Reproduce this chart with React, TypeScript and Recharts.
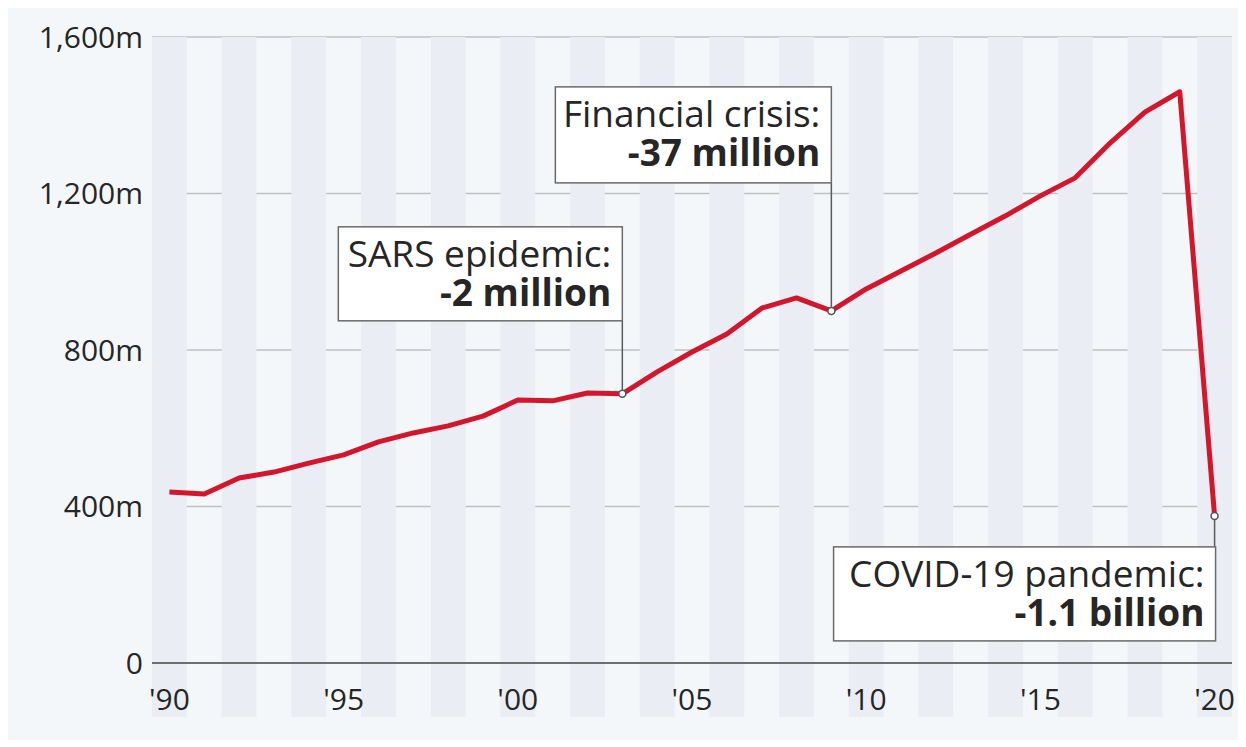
import React from 'react';
import {
  LineChart,
  Line,
  XAxis,
  YAxis,
  CartesianGrid,
  ReferenceArea,
  ReferenceDot,
} from 'recharts';

const years = [
  1990, 1991, 1992, 1993, 1994, 1995, 1996, 1997, 1998, 1999, 2000,
  2001, 2002, 2003, 2004, 2005, 2006, 2007, 2008, 2009, 2010,
  2011, 2012, 2013, 2014, 2015, 2016, 2017, 2018, 2019, 2020,
];

// international tourist arrivals, millions
const arrivals = [
  437, 432, 473, 488, 511, 532, 565, 588, 606, 631, 672,
  670, 690, 688, 744, 795, 841, 907, 933, 900, 956,
  1002, 1048, 1096, 1143, 1194, 1240, 1329, 1408, 1460, 376,
];

const yTicks = [0, 400, 800, 1200, 1600];
const xTicks = [1990, 1995, 2000, 2005, 2010, 2015, 2020];

const events = [
  { year: 2003, title: 'SARS epidemic:', loss: '-2 million' },
  { year: 2009, title: 'Financial crisis:', loss: '-37 million' },
  { year: 2020, title: 'COVID-19 pandemic:', loss: '-1.1 billion' },
];

const data = years.map((year, i) => ({ year, value: arrivals[i] }));
const stripeYears = years.filter((y) => y % 2 === 0);

const FONT = '"Open Sans", "Noto Sans", sans-serif';
const RED = '#d3162b';
const TEXT = '#262626';

// box placement relative to the marked point (pixels)
const boxLayout: Record<number, { left: number; top: number; width: number; height: number }> = {
  2003: { left: -284, top: -167, width: 284, height: 94 },
  2009: { left: -276, top: -224, width: 276, height: 96 },
  2020: { left: -381, top: 31, width: 382, height: 94 },
};

const Stripe = (props: any) => {
  const { x, y, width, height } = props;
  return <rect x={x} y={y} width={width} height={height + 54} fill="#eaeef4" />;
};

const Callout = (props: any) => {
  const { cx, cy, year, title, loss } = props;
  const b = boxLayout[year];
  const bx = cx + b.left;
  const by = cy + b.top;
  const right = bx + b.width - 11;
  const lineFrom = b.top < 0 ? by + b.height : cy + 4;
  const lineTo = b.top < 0 ? cy - 4 : by;
  return (
    <g>
      <line x1={cx} y1={lineFrom} x2={cx} y2={lineTo} stroke="#5a5a5a" strokeWidth={1.5} />
      <rect x={bx} y={by} width={b.width} height={b.height} fill="#ffffff" stroke="#6a6a6a" strokeWidth={1.5} />
      <text x={right} y={by + 40} textAnchor="end" fontSize={37} fill={TEXT} fontFamily={FONT}>
        {title}
      </text>
      <text x={right} y={by + 79} textAnchor="end" fontSize={37} fontWeight="bold" fill={TEXT} fontFamily={FONT}>
        {loss}
      </text>
      <circle cx={cx} cy={cy} r={3.5} fill="#ffffff" stroke="#555" strokeWidth={1.5} />
    </g>
  );
};

const App: React.FC = () => {
  return (
    <div style={{ width: 1232, height: 732, background: '#f4f7fa', fontFamily: FONT }}>
      <LineChart
        width={1232}
        height={732}
        data={data}
        margin={{ top: 29, right: 8, left: 0, bottom: 27 }}
      >
        {stripeYears.map((y) => (
          <ReferenceArea
            key={y}
            x1={y - 0.5}
            x2={y + 0.5}
            y1={0}
            y2={1600}
            ifOverflow="visible"
            shape={<Stripe />}
          />
        ))}
        <CartesianGrid vertical={false} stroke="#bcc1c8" strokeWidth={1.5} />
        <XAxis
          dataKey="year"
          type="number"
          domain={[1989.5, 2020.5]}
          ticks={xTicks}
          tickFormatter={(y) => `'${String(y).slice(2)}`}
          tickLine={false}
          tickMargin={20}
          axisLine={{ stroke: '#6e6e6e', strokeWidth: 2 }}
          tick={{ fill: TEXT, fontSize: 30, fontFamily: FONT }}
          height={50}
          interval={0}
        />
        <YAxis
          domain={[0, 1600]}
          ticks={yTicks}
          tickFormatter={(v) => (v === 0 ? '0' : `${v.toLocaleString('en-US')}m`)}
          tickLine={false}
          axisLine={false}
          tickMargin={3}
          tick={{ fill: TEXT, fontSize: 30, fontFamily: FONT }}
          width={144}
          interval={0}
        />
        <Line
          type="linear"
          dataKey="value"
          stroke={RED}
          strokeWidth={5}
          strokeLinejoin="round"
          dot={false}
          activeDot={false}
          isAnimationActive={false}
        />
        {events.map((e) => (
          <ReferenceDot
            key={e.year}
            x={e.year}
            y={arrivals[years.indexOf(e.year)]}
            ifOverflow="visible"
            shape={(p: any) => <Callout {...p} year={e.year} title={e.title} loss={e.loss} />}
          />
        ))}
      </LineChart>
    </div>
  );
};

export default App;
